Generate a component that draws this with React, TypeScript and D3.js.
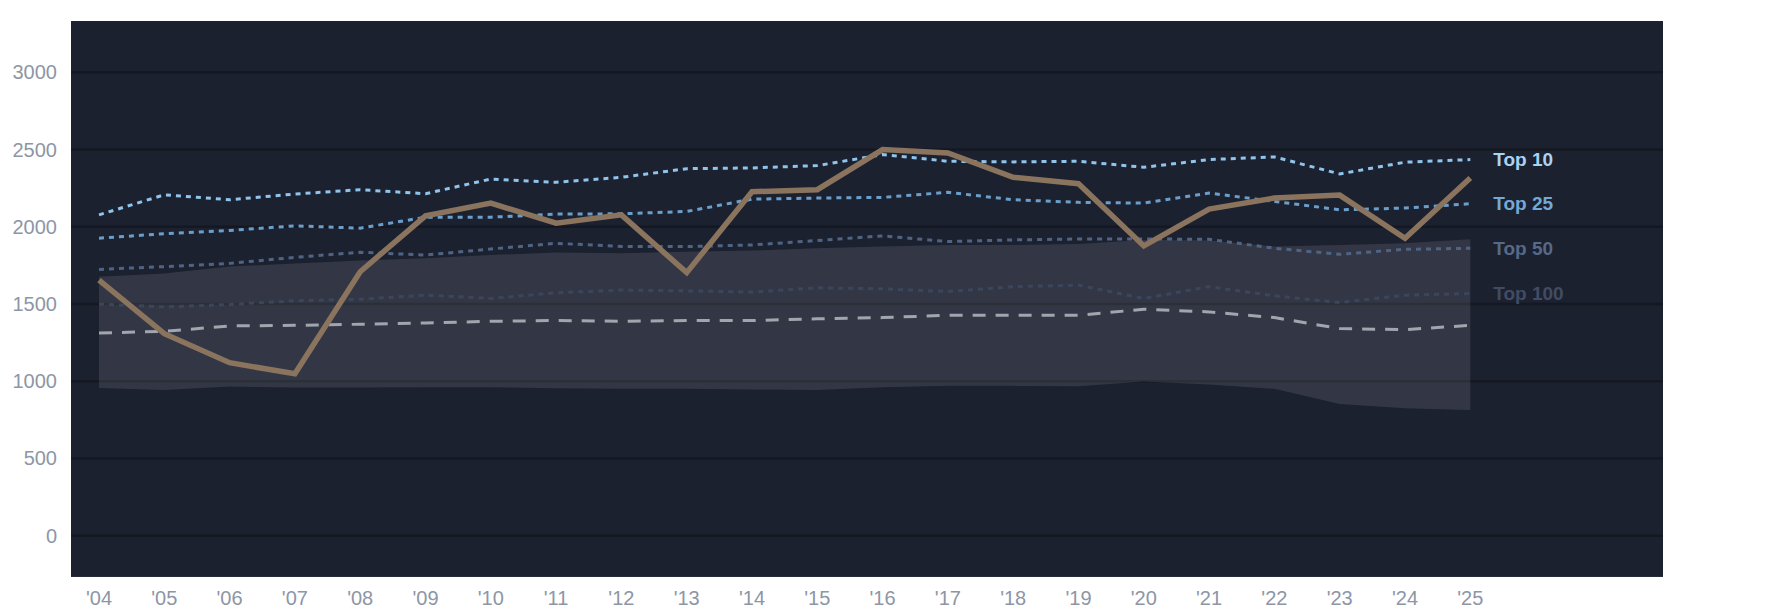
import React from "react";
import * as d3 from "d3";

const years = d3.range(2004, 2026);
const yearLabels = years.map((y) => "'" + String(y).slice(2));
const yTicks = [0, 500, 1000, 1500, 2000, 2500, 3000];

const top10 = [2077, 2207, 2175, 2212, 2240, 2214, 2309, 2288, 2320, 2376, 2381, 2396, 2467, 2424, 2420, 2424, 2385, 2435, 2452, 2342, 2418, 2435];
const top25 = [1926, 1955, 1976, 2006, 1991, 2062, 2062, 2082, 2084, 2099, 2179, 2186, 2190, 2223, 2175, 2158, 2153, 2218, 2164, 2110, 2121, 2149];
const top50 = [1724, 1742, 1763, 1802, 1835, 1817, 1856, 1893, 1872, 1872, 1882, 1911, 1941, 1904, 1915, 1921, 1921, 1919, 1861, 1822, 1854, 1861];
const top100 = [1499, 1481, 1497, 1521, 1531, 1557, 1536, 1573, 1590, 1585, 1577, 1605, 1598, 1581, 1612, 1622, 1536, 1612, 1553, 1510, 1557, 1568];
const median = [1312, 1323, 1358, 1362, 1369, 1377, 1388, 1393, 1388, 1393, 1393, 1404, 1412, 1427, 1427, 1427, 1466, 1449, 1412, 1341, 1334, 1362];
const bandHigh = [1677, 1698, 1742, 1763, 1781, 1796, 1817, 1833, 1828, 1839, 1846, 1861, 1872, 1882, 1882, 1889, 1915, 1911, 1872, 1882, 1893, 1919];
const bandLow = [957, 944, 966, 959, 959, 961, 961, 955, 951, 951, 946, 944, 961, 970, 970, 968, 998, 979, 951, 853, 825, 814];
const main = [1655, 1308, 1120, 1048, 1709, 2071, 2153, 2023, 2077, 1703, 2227, 2240, 2500, 2478, 2320, 2279, 1876, 2114, 2186, 2205, 1926, 2316];

const tierNames = ["Top 10", "Top 25", "Top 50", "Top 100"];
const tierSeries = [top10, top25, top50, top100];
const tierColors = ["#8fc4ec", "#6b9fcb", "#4f6482", "#3b465d"];
const labelColors = ["#a9d3f3", "#74a9d6", "#566a88", "#414c63"];

export default function App() {
  const W = 1785;
  const H = 614;
  const x = d3.scaleLinear().domain([2004, 2025]).range([99, 1470.3]);
  const y = d3.scaleLinear().domain([0, 3000]).range([535.7, 72.3]);
  const plotLeft = 71;
  const plotRight = 1663;
  const plotTop = y(3332);
  const plotBottom = y(-267);

  const line = (vals: number[]) =>
    d3.line<number>().x((_, i) => x(years[i])).y((d) => y(d))(vals) || "";
  const area =
    d3
      .area<number>()
      .x((_, i) => x(years[i]))
      .y0((_, i) => y(bandLow[i]))
      .y1((d) => y(d))(bandHigh) || "";

  const font = "'Liberation Sans', Arial, Helvetica, sans-serif";
  const last = years.length - 1;

  return (
    <svg
      width={W}
      height={H}
      style={{ position: "absolute", left: 0, top: 0, background: "#ffffff" }}
    >
      <rect x={plotLeft} y={plotTop} width={plotRight - plotLeft} height={plotBottom - plotTop} fill="#1c2130" />
      {yTicks.map((t) => (
        <line key={t} x1={plotLeft} x2={plotRight} y1={y(t)} y2={y(t)} stroke="#141822" strokeWidth={2.5} />
      ))}
      <path d={area} fill="#ffffff" fillOpacity={0.1} />
      {tierSeries
        .map((s, i) => (
          <path
            key={tierNames[i]}
            d={line(s)}
            fill="none"
            stroke={tierColors[i]}
            strokeWidth={3}
            strokeDasharray="5,5"
          />
        ))
        .reverse()}
      <path d={line(median)} fill="none" stroke="#a1a5ae" strokeWidth={3} strokeDasharray="13,10" />
      <path d={line(main)} fill="none" stroke="#8b745e" strokeWidth={5.5} strokeLinejoin="miter" />
      {tierNames.map((n, i) => (
        <text
          key={n}
          x={x(2025) + 23}
          y={y(tierSeries[i][last])}
          dy="0.35em"
          fill={labelColors[i]}
          fontFamily={font}
          fontWeight="bold"
          fontSize={19}
        >
          {n}
        </text>
      ))}
      {yTicks.map((t) => (
        <text
          key={t}
          x={57}
          y={y(t)}
          dy="0.35em"
          textAnchor="end"
          fill="#8d96a6"
          fontFamily={font}
          fontSize={20}
        >
          {t}
        </text>
      ))}
      {years.map((yr, i) => (
        <text
          key={yr}
          x={x(yr)}
          y={598}
          dy="0.35em"
          textAnchor="middle"
          fill="#8d96a6"
          fontFamily={font}
          fontSize={20}
        >
          {yearLabels[i]}
        </text>
      ))}
    </svg>
  );
}
